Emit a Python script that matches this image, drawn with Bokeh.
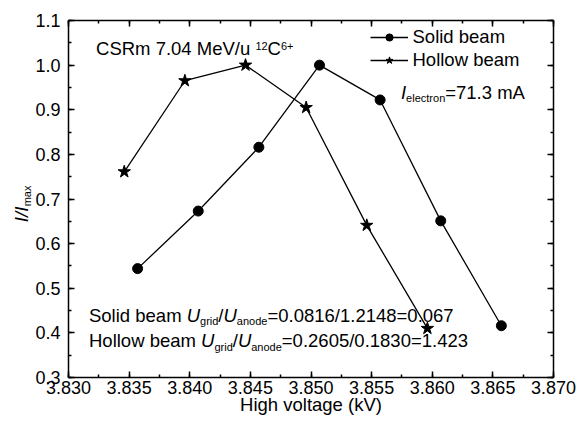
import math
from bokeh.plotting import figure
from bokeh.models import (Range1d, LinearAxis, SingleIntervalTicker, FixedTicker, PrintfTickFormatter,
                          CustomJSTickFormatter, Legend, LegendItem, Label)
from bokeh.embed import file_html
from bokeh.resources import INLINE

# ---------------- data ----------------
solid_hv = [3.8357, 3.8407, 3.8457, 3.8507, 3.8557, 3.8607, 3.8657]
solid_i = [0.544, 0.673, 0.816, 1.000, 0.922, 0.651, 0.416]
hollow_hv = [3.8346, 3.8396, 3.8446, 3.8496, 3.8546, 3.8596]
hollow_i = [0.761, 0.965, 1.000, 0.905, 0.641, 0.410]

x_ticks_start, x_ticks_end, x_step = 3.830, 3.870, 0.005
y_ticks_start, y_ticks_end, y_step = 0.3, 1.1, 0.1

FONT = "Liberation Sans"
MAIN = 18.5
SUB = 11.0
NBSP = "\u00a0"

# Arial / Liberation Sans advance widths (per 1000 em)
W = {' ': 278, '(': 333, ')': 333, '+': 584, '.': 278, '/': 278, '=': 584,
     'A': 667, 'C': 722, 'H': 722, 'I': 278, 'M': 833, 'R': 722, 'S': 667, 'U': 722, 'V': 667,
     'a': 556, 'b': 556, 'c': 500, 'd': 556, 'e': 556, 'g': 556, 'h': 556, 'i': 222,
     'k': 500, 'l': 222, 'm': 833, 'n': 556, 'o': 556, 'r': 333, 't': 278, 'u': 556,
     'v': 500, 'w': 722, 'x': 500, 'y': 500}


def tw(s, size):
    return sum(W.get(c, 556) for c in s) / 1000.0 * size


p = figure(width=579, height=429, output_backend="svg", toolbar_location=None,
           x_range=Range1d(x_ticks_start, x_ticks_end), y_range=Range1d(y_ticks_start, y_ticks_end),
           min_border_left=68, min_border_right=26, min_border_top=20, min_border_bottom=52)
p.xgrid.visible = False
p.ygrid.visible = False
p.outline_line_color = None
p.background_fill_color = "white"
p.border_fill_color = "white"


def style_axis(ax, show_labels):
    ax.axis_line_width = 1.5
    ax.axis_line_color = "black"
    ax.major_tick_in = 6
    ax.major_tick_out = 0
    ax.minor_tick_in = 3
    ax.minor_tick_out = 0
    ax.major_tick_line_width = 1.5
    ax.minor_tick_line_width = 1.5
    ax.major_tick_line_color = "black"
    ax.minor_tick_line_color = "black"
    ax.major_label_text_font = FONT
    ax.major_label_text_font_size = "18px"
    ax.major_label_text_color = "black"
    if not show_labels:
        ax.formatter = CustomJSTickFormatter(code="return ''")
        ax.major_label_text_font_size = "0px"
        ax.major_label_standoff = 0


xt = SingleIntervalTicker(interval=x_step, num_minor_ticks=2)
yt = SingleIntervalTicker(interval=y_step, num_minor_ticks=2)

xa = p.xaxis[0]
xa.ticker = xt
xa.formatter = PrintfTickFormatter(format="%.3f")
style_axis(xa, True)
xa.major_label_standoff = 3
xa.axis_label = "High voltage (kV)"
xa.axis_label_text_font = FONT
xa.axis_label_text_font_size = "18.5px"
xa.axis_label_text_font_style = "normal"
xa.axis_label_text_color = "black"
xa.axis_label_standoff = -3

# left axis: tick labels + the subscript part of the title ("max")
ya = p.yaxis[0]
ya.ticker = yt
ya.formatter = PrintfTickFormatter(format="%.1f")
style_axis(ya, True)
ya.major_label_standoff = 8
ya.axis_label = NBSP * 2 + "max"
ya.axis_label_text_font = FONT
ya.axis_label_text_font_size = f"{SUB}px"
ya.axis_label_text_font_style = "normal"
ya.axis_label_text_color = "black"
ya.axis_label_standoff = -1

# outer left axis carrying only the italic "I/I" of the title
ya2 = LinearAxis(ticker=FixedTicker(ticks=[]), axis_line_color=None,
                 major_tick_line_color=None, minor_tick_line_color=None,
                 major_label_text_font_size="0px", major_label_standoff=0,
                 axis_label="I/I" + NBSP * 6, axis_label_text_font=FONT,
                 axis_label_text_font_size=f"{MAIN}px", axis_label_text_font_style="italic",
                 axis_label_text_color="black", axis_label_standoff=-13)
p.add_layout(ya2, "left")

top = LinearAxis(ticker=SingleIntervalTicker(interval=x_step, num_minor_ticks=2))
style_axis(top, False)
p.add_layout(top, "above")
right = LinearAxis(ticker=SingleIntervalTicker(interval=y_step, num_minor_ticks=2))
style_axis(right, False)
p.add_layout(right, "right")

# ---------------- series ----------------
l1 = p.line(solid_hv, solid_i, line_color="black", line_width=1.3)
s1 = p.scatter(solid_hv, solid_i, marker="circle", size=10, fill_color="black", line_color="black")
l2 = p.line(hollow_hv, hollow_i, line_color="black", line_width=1.3)
s2 = p.scatter(hollow_hv, hollow_i, marker="star", size=13, fill_color="black", line_color="black")

legend = Legend(items=[LegendItem(label="Solid beam", renderers=[l1, s1]),
                       LegendItem(label="Hollow beam", renderers=[l2, s2])],
                location=(301.5, 306), padding=0, margin=0, spacing=1,
                glyph_width=38, glyph_height=18, label_height=18, label_standoff=5,
                label_text_font=FONT, label_text_font_size="18.5px", label_text_color="black",
                border_line_color=None, background_fill_alpha=0)
p.add_layout(legend, "center")


# ---------------- rich text annotations ----------------
def rich(x, y, pieces):
    """(x, y) = start of the baseline; pieces: (text, size, italic, baseline shift px, + = down)"""
    adv = 0.0
    for text, size, italic, shift in pieces:
        p.add_layout(Label(x=x, y=y, text=text, x_offset=adv, y_offset=0.35 * size - shift,
                           text_font=FONT, text_font_size=f"{size}px",
                           text_font_style="italic" if italic else "normal",
                           text_color="black", text_align="left", text_baseline="middle"))
        adv += tw(text, size)


rich(3.83227, 1.0227, [("CSRm 7.04 MeV/u ", MAIN, False, 0), ("12", SUB, False, -5),
                       ("C", MAIN, False, 0), ("6+", SUB, False, -5)])
rich(3.85742, 0.9252, [("I", MAIN, True, 0), ("electron", SUB, False, 3),
                       ("=71.3 mA", MAIN, False, 0)])
rich(3.83169, 0.4255, [("Solid beam ", MAIN, False, 0), ("U", MAIN, True, 0), ("grid", SUB, False, 3),
                       ("/", MAIN, False, 0), ("U", MAIN, True, 0), ("anode", SUB, False, 3),
                       ("=0.0816/1.2148=0.067", MAIN, False, 0)])
rich(3.83169, 0.3675, [("Hollow beam ", MAIN, False, 0), ("U", MAIN, True, 0), ("grid", SUB, False, 3),
                       ("/", MAIN, False, 0), ("U", MAIN, True, 0), ("anode", SUB, False, 3),
                       ("=0.2605/0.1830=1.423", MAIN, False, 0)])

open("out.html", "w").write(file_html(p, INLINE))
